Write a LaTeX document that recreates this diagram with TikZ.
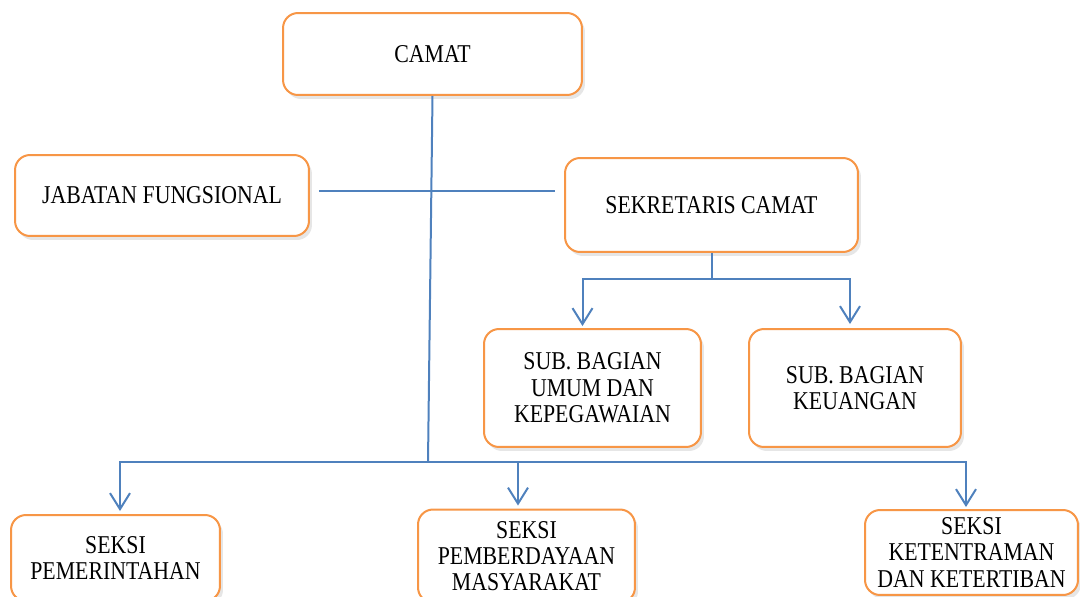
\documentclass[tikz,border=0pt]{standalone}
\usepackage{fontspec}
\setmainfont[FakeStretch=0.85]{Liberation Serif}
\usetikzlibrary{arrows.meta,shadows,calc}
\definecolor{boxorange}{RGB}{247,150,70}
\definecolor{lineblue}{RGB}{79,129,189}
\tikzset{
	unit/.style={shape=rectangle, rounded corners=0.3cm, draw=boxorange, line width=0.04cm, fill=white,
		drop shadow={opacity=0.2, shadow xshift=0.06cm, shadow yshift=-0.08cm},
		align=center, font=\fontsize{14.6}{15}\selectfont, inner sep=0pt},
	link/.style={draw=lineblue, line width=0.04cm},
	down/.style={link, -{Straight Barb[length=0.32cm, width=0.4cm, line width=0.04cm]}}
}

\begin{document}
\begin{tikzpicture}[x=0.02cm, y=-0.02cm]
		\useasboundingbox (0,0) rectangle (1080,596);
		\draw (432.5,54) node[unit, minimum width=5.98cm, minimum height=1.64cm](camat){CAMAT};
		\draw (162,195.5) node[unit, minimum width=5.88cm, minimum height=1.62cm](jabatan){JABATAN FUNGSIONAL};
		\draw (711.5,205) node[unit, minimum width=5.86cm, minimum height=1.88cm](sekcam){SEKRETARIS CAMAT};
		\draw (592.5,388) node[unit, minimum width=4.34cm, minimum height=2.36cm](umum){SUB. BAGIAN\\UMUM DAN\\KEPEGAWAIAN};
		\draw (855,388) node[unit, minimum width=4.24cm, minimum height=2.36cm](keuangan){SUB. BAGIAN\\KEUANGAN};

		\draw (115.5,558) node[unit, minimum width=4.18cm, minimum height=1.72cm](pemerintahan){SEKSI\\PEMERINTAHAN};
		\draw (526.5,556) node[unit, minimum width=4.34cm, minimum height=1.86cm](pemberdayaan){SEKSI\\PEMBERDAYAAN\\MASYARAKAT};
		\draw (971.5,552.5) node[unit, minimum width=4.26cm, minimum height=1.70cm](ketentraman){SEKSI\\KETENTRAMAN\\DAN KETERTIBAN};

		% garis komando
		\coordinate (mid) at (430,191);
		\coordinate (hub) at (428,462);
		\draw[link] (camat.south) -- (hub);
		\draw[link] ([xshift=0.18cm]jabatan.east |- mid) -- ([xshift=-0.18cm]sekcam.west |- mid);

		\draw[link] (sekcam.south) -- ++(0,26) coordinate(sekjoint);
		\draw[down] (sekjoint) -| ([xshift=-0.2cm, yshift=0.04cm]umum.north);
		\draw[down] (sekjoint) -| ([xshift=-0.1cm, yshift=0.08cm]keuangan.north);

		\draw[down] (hub) -| ([xshift=0.09cm, yshift=0.06cm]pemerintahan.north);
		\draw[down] (hub) -| ([xshift=-0.17cm, yshift=0.06cm]pemberdayaan.north);
		\draw[down] (hub) -| ([xshift=-0.11cm, yshift=0.04cm]ketentraman.north);
	\end{tikzpicture}
\end{document}
